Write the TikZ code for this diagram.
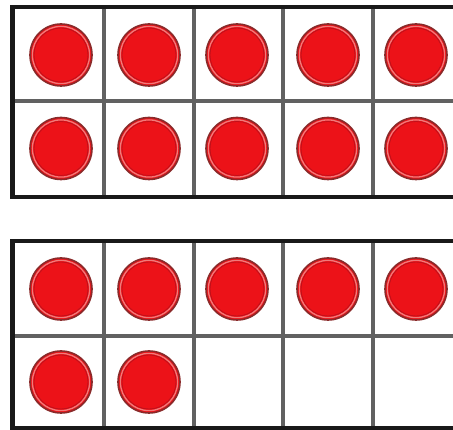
\documentclass[tikz,border=0pt]{standalone}
\begin{document}
\begin{tikzpicture}[x=1pt,y=-1pt,
  outerline/.style={line width=4.5pt,color=black!90},
  innerline/.style={line width=3.5pt,color=black!62},
  counter/.style={circle,inner sep=0pt,minimum size=62pt,
    fill=cred,draw=cedge,line width=1.6pt,
    path picture={
      \draw[cpink,line width=1.3pt] (path picture bounding box.center) circle (28.6pt);
      \draw[cdark,line width=0.8pt] (path picture bounding box.center) circle (27pt);
    }}]
\definecolor{cred}{HTML}{EC1218}
\definecolor{cedge}{HTML}{8A2A2A}
\definecolor{cpink}{HTML}{F07A7A}
\definecolor{cdark}{HTML}{C0101A}
\useasboundingbox (0,0) rectangle (453,430);
\clip (0,0) rectangle (453,430);
\fill[white] (0,0) rectangle (453,430);
% top frame
\foreach \x in {104,194,283,373}{
  \draw[innerline] (\x,7) -- (\x,197);
  \draw[innerline] (\x,241) -- (\x,428);
}
\draw[innerline] (12,101) -- (470,101);
\draw[innerline] (12,336) -- (470,336);
\draw[outerline] (470,7) -- (12.5,7) -- (12.5,197) -- (470,197);
\draw[outerline] (470,241) -- (12.5,241) -- (12.5,428) -- (470,428);
% counters top frame
\foreach \x [count=\i] in {61,149,237,328,416}{
  \node[counter] (a\i) at (\x,55) {};
  \node[counter] (b\i) at (\x,148.5) {};
}
\foreach \x [count=\i] in {61,149,237,328,416}{
  \node[counter] (c\i) at (\x,289) {};
}
\node[counter] (d1) at (61,382) {};
\node[counter] (d2) at (149,382) {};
\end{tikzpicture}
\end{document}
